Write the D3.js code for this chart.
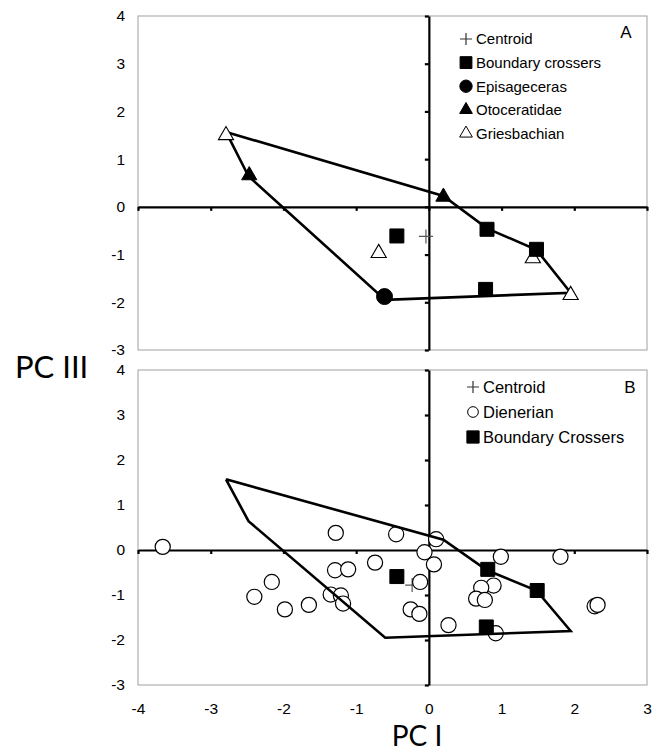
<!DOCTYPE html>
<html>
<head>
<meta charset="utf-8">
<script src="https://cdn.jsdelivr.net/npm/d3@7"></script>
<style>
  body { margin: 0; background: #fff; }
  svg { display: block; }
  .legend text { font-family: "Liberation Sans", Arial, sans-serif; fill: #000; }
</style>
</head>
<body>
<svg id="chart"></svg>
<script>
// Panel A: Griesbachian assemblage (PC I, PC III)
const boundaryCrossersA = [[-0.44, -0.61], [0.80, -0.47], [1.48, -0.89], [0.78, -1.73]]
const episageceras = [[-0.61, -1.88]]
const otoceratidae = [[-2.47, 0.66], [0.20, 0.21]]
const griesbachian = [[-2.79, 1.50], [-0.69, -0.97], [1.43, -1.08], [1.95, -1.85]]
const centroidA = [[-0.04, -0.62]]

// Panel B: Dienerian assemblage
const dienerian = [
  [-3.66, 0.07], [-1.28, 0.38], [-1.29, -0.45], [-1.11, -0.43], [-0.74, -0.28],
  [-2.16, -0.71], [-2.40, -1.04], [-1.98, -1.32], [-1.65, -1.22], [-1.35, -0.99],
  [-1.21, -1.01], [-1.18, -1.19], [-0.45, 0.35], [0.10, 0.24], [-0.06, -0.05],
  [0.07, -0.32], [-0.12, -0.71], [-0.25, -1.32], [-0.13, -1.42], [0.27, -1.67],
  [0.99, -0.15], [1.81, -0.15], [0.89, -0.79], [0.72, -0.84], [0.65, -1.08],
  [0.77, -1.11], [2.28, -1.25], [2.32, -1.22], [0.92, -1.85]
]
const boundaryCrossersB = [[-0.44, -0.59], [0.81, -0.43], [1.49, -0.90], [0.79, -1.71]]
const centroidB = [[-0.23, -0.78]]

// outline of the Griesbachian morphospace, drawn in both panels
const outline = [[-2.79, 1.57], [0.20, 0.23], [0.80, -0.45], [1.48, -0.90],
                 [1.95, -1.80], [-0.60, -1.95], [-2.48, 0.64], [-2.79, 1.57]]

const xTicks = [-4, -3, -2, -1, 0, 1, 2, 3]
const yTicks = [-3, -2, -1, 0, 1, 2, 3, 4]
const legendA = ['Centroid', 'Boundary crossers', 'Episageceras', 'Otoceratidae', 'Griesbachian']
const legendB = ['Centroid', 'Dienerian', 'Boundary Crossers']

const width = 662
const height = 752
const tickFont = '"Liberation Sans", Arial, sans-serif'
const svg = d3.select('#chart').attr('width', width).attr('height', height)

const xScale = d3.scaleLinear().domain([-4, 3]).range([138, 647])
const yScaleA = d3.scaleLinear().domain([-3, 4]).range([350, 16])
const yScaleB = d3.scaleLinear().domain([-3, 4]).range([685, 370])

const crossPath = (s) => `M${-s},0H${s}M0,${-s}V${s}`
const plainNum = (d) => String(d)

const drawFrame = (g, yScale, showX) => {
  // plot border
  g.append('rect')
    .attr('x', xScale(-4)).attr('y', yScale(4))
    .attr('width', xScale(3) - xScale(-4)).attr('height', yScale(-3) - yScale(4))
    .attr('fill', 'none').attr('stroke', '#a0a0a0').attr('stroke-width', 1)

  // axes crossing at the origin
  const xAxis = d3.axisBottom(xScale).tickValues(xTicks).tickSize(4).tickSizeOuter(0).tickFormat('')
  g.append('g').attr('transform', `translate(0,${yScale(0)})`).call(xAxis)
    .call(a => a.selectAll('path, line').attr('stroke', '#000').attr('stroke-width', 2.2))
  const yAxis = d3.axisLeft(yScale).tickValues(yTicks).tickSize(4).tickSizeOuter(0).tickFormat('')
  g.append('g').attr('transform', `translate(${xScale(0)},0)`).call(yAxis)
    .call(a => a.selectAll('path, line').attr('stroke', '#000').attr('stroke-width', 2.2))

  // tick labels at the frame
  const yLabels = d3.axisLeft(yScale).tickValues(yTicks).tickSize(0).tickPadding(13).tickFormat(plainNum)
  g.append('g').attr('transform', `translate(${xScale(-4)},0)`).call(yLabels)
    .attr('font-size', 15.5).attr('font-family', tickFont)
    .call(a => a.select('.domain').remove())
  if (showX) {
    const xLabels = d3.axisBottom(xScale).tickValues(xTicks).tickSize(0).tickPadding(18).tickFormat(plainNum)
    g.append('g').attr('transform', `translate(0,${yScale(-3)})`).call(xLabels)
      .attr('font-size', 15.5).attr('font-family', tickFont)
      .call(a => a.select('.domain').remove())
  }
}

const drawOutline = (g, yScale) => {
  const line = d3.line().x(d => xScale(d[0])).y(d => yScale(d[1]))
  g.append('path').datum(outline)
    .attr('d', line)
    .attr('fill', 'none').attr('stroke', '#000').attr('stroke-width', 2.6)
    .attr('stroke-linejoin', 'miter')
}

const drawMarks = (g, yScale, data, type, size, fill, stroke, sw) => {
  g.append('g').selectAll('path')
    .data(data)
    .enter()
    .append('path')
    .attr('transform', d => `translate(${xScale(d[0])},${yScale(d[1])})`)
    .attr('d', d3.symbol().type(type).size(size))
    .attr('fill', fill).attr('stroke', stroke).attr('stroke-width', sw)
}

const drawCentroid = (g, yScale, data) => {
  g.append('g').selectAll('path')
    .data(data)
    .enter()
    .append('path')
    .attr('transform', d => `translate(${xScale(d[0])},${yScale(d[1])})`)
    .attr('d', crossPath(7))
    .attr('stroke', '#555').attr('stroke-width', 1.2).attr('fill', 'none')
}

const drawLegend = (g, x, y0, step, fontSize, items) => {
  const lg = g.append('g').attr('class', 'legend')
  items.forEach((it, i) => {
    const y = y0 + i * step
    if (it.kind === 'cross') {
      lg.append('path').attr('transform', `translate(${x},${y})`).attr('d', crossPath(6))
        .attr('stroke', '#333').attr('stroke-width', 1.2)
    } else {
      lg.append('path').attr('transform', `translate(${x},${y})`)
        .attr('d', d3.symbol().type(it.kind).size(it.size))
        .attr('fill', it.fill).attr('stroke', '#000').attr('stroke-width', it.sw || 1)
    }
    lg.append('text').attr('x', x + 10).attr('y', y + fontSize * 0.36)
      .attr('font-size', fontSize).text(it.label)
  })
}

// ---- Panel A ----
const gA = svg.append('g')
drawFrame(gA, yScaleA, false)
drawOutline(gA, yScaleA)
drawCentroid(gA, yScaleA, centroidA)
drawMarks(gA, yScaleA, griesbachian, d3.symbolTriangle, 100, '#fff', '#000', 1.1)
drawMarks(gA, yScaleA, otoceratidae, d3.symbolTriangle, 100, '#000', '#000', 1)
drawMarks(gA, yScaleA, episageceras, d3.symbolCircle, 200, '#000', '#000', 1)
drawMarks(gA, yScaleA, boundaryCrossersA, d3.symbolSquare, 196, '#000', '#000', 1)
drawLegend(gA, 466, 39, 23.6, 15, [
  {kind: 'cross', label: legendA[0]},
  {kind: d3.symbolSquare, size: 140, fill: '#000', label: legendA[1]},
  {kind: d3.symbolCircle, size: 120, fill: '#000', label: legendA[2]},
  {kind: d3.symbolTriangle, size: 70, fill: '#000', label: legendA[3]},
  {kind: d3.symbolTriangle, size: 70, fill: '#fff', sw: 1, label: legendA[4]}
])
gA.append('text').attr('class', 'legend').attr('x', 626).attr('y', 38)
  .attr('text-anchor', 'middle').attr('font-size', 17)
  .attr('font-family', tickFont).text('A')

// ---- Panel B ----
const gB = svg.append('g')
drawFrame(gB, yScaleB, true)
drawCentroid(gB, yScaleB, centroidB)
drawMarks(gB, yScaleB, dienerian, d3.symbolCircle, 180, '#fff', '#000', 1.2)
drawOutline(gB, yScaleB)
drawMarks(gB, yScaleB, boundaryCrossersB, d3.symbolSquare, 196, '#000', '#000', 1)
drawLegend(gB, 473, 387, 25, 16.5, [
  {kind: 'cross', label: legendB[0]},
  {kind: d3.symbolCircle, size: 90, fill: '#fff', sw: 1, label: legendB[1]},
  {kind: d3.symbolSquare, size: 150, fill: '#000', label: legendB[2]}
])
gB.append('text').attr('class', 'legend').attr('x', 630).attr('y', 393)
  .attr('text-anchor', 'middle').attr('font-size', 17)
  .attr('font-family', tickFont).text('B')

// axis titles
svg.append('text').attr('x', 15).attr('y', 378)
  .attr('font-family', 'Lato, "Open Sans", sans-serif').attr('font-weight', 400)
  .attr('font-size', 31).text('PC III')
svg.append('text').attr('x', 417).attr('y', 746).attr('text-anchor', 'middle')
  .attr('font-family', 'Lato, "Open Sans", sans-serif').attr('font-weight', 400)
  .attr('font-size', 28).text('PC I')
</script>
</body>
</html>
